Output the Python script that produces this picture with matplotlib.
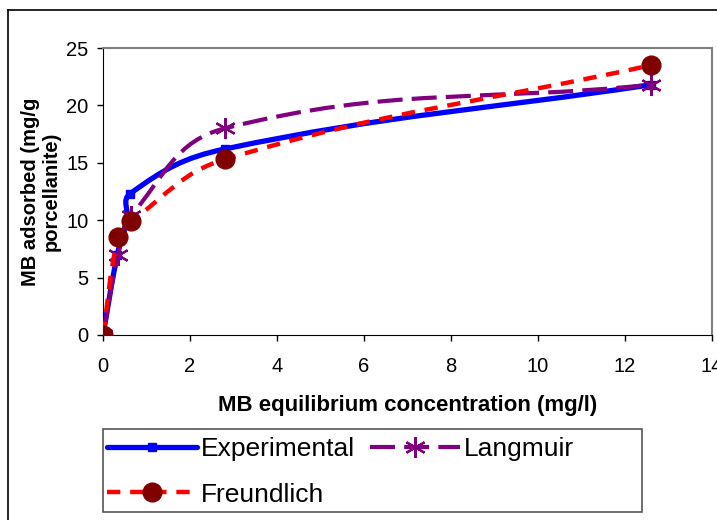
import numpy as np
import matplotlib
matplotlib.use('Agg')
import matplotlib.pyplot as plt
from matplotlib.path import Path
from matplotlib.patches import PathPatch, Rectangle
from matplotlib.lines import Line2D

plt.rcParams['font.family'] = ['Liberation Sans', 'DejaVu Sans']

# data
ce_exp = [0.0, 0.33, 0.55, 0.62, 2.8, 12.6]
experimental = [0.0, 7.0, 10.0, 12.3, 16.2, 21.8]
ce_model = [0.0, 0.35, 0.65, 2.8, 12.6]
langmuir = [0.0, 7.0, 10.4, 18.0, 21.8]
freundlich = [0.0, 8.5, 9.9, 15.3, 23.5]

xticks = [0, 2, 4, 6, 8, 10, 12, 14]
yticks = [0, 5, 10, 15, 20, 25]

W, H = 717, 520
XPX = 609 / 14.0   # pixels per x unit
YPX = 287 / 25.0   # pixels per y unit


def smoothPath(x, y, s=0.4):
    # smoothed line: tangent from the neighbours, handle length from the
    # segment length (worked out in screen scale so it does not loop)
    scale = np.array([XPX, YPX])
    pts = np.column_stack([x, y]) * scale
    n = len(pts)
    tang = []
    for i in range(n):
        d = pts[min(i + 1, n - 1)] - pts[max(i - 1, 0)]
        tang.append(d / np.linalg.norm(d))
    verts = [pts[0]]
    codes = [Path.MOVETO]
    for i in range(n - 1):
        seg = np.linalg.norm(pts[i + 1] - pts[i])
        verts += [pts[i] + tang[i] * seg * s, pts[i + 1] - tang[i + 1] * seg * s,
                  pts[i + 1]]
        codes += [Path.CURVE4] * 3
    return Path(np.array(verts) / scale, codes)


fig = plt.figure(figsize=(W / 100, H / 100), dpi=100)
ax = fig.add_axes([103 / W, 1 - 335 / H, 609 / W, 287 / H])

# outer chart border
fig.add_artist(Line2D([8 / W, 1], [1 - 10 / H] * 2, color='black', lw=1.2))
fig.add_artist(Line2D([8 / W] * 2, [0, 1 - 10 / H], color='black', lw=1.2))

blue = '#0000ff'
purple = '#800080'
red = '#ff0000'
maroon = '#800000'

ax.add_patch(PathPatch(smoothPath(ce_exp, experimental), fill=False,
                       edgecolor=blue, lw=3.8, zorder=3, capstyle='round'))
ax.plot(ce_exp, experimental, ls='none', marker='s', ms=6, color=blue, zorder=3)

ax.add_patch(PathPatch(smoothPath(ce_model, langmuir), fill=False,
                       edgecolor=purple, lw=3, ls=(0, (6, 2.2)), zorder=4))
ax.plot(ce_model, langmuir, ls='none', marker=(6, 2, 0), ms=15, mew=1.6,
        color=purple, zorder=4)

ax.add_patch(PathPatch(smoothPath(ce_model, freundlich), fill=False,
                       edgecolor=red, lw=3.2, ls=(0, (3, 2.2)), zorder=5))
ax.plot(ce_model, freundlich, ls='none', marker='o', ms=13.5, color=maroon,
        zorder=6)

ax.set_xlim(0, 14)
ax.set_ylim(0, 25)
ax.set_xticks(xticks)
ax.set_yticks(yticks)
ax.tick_params(labelsize=14.5, direction='out', length=4.5, width=1,
               color='black')
ax.tick_params(axis='y', pad=6)
ax.tick_params(axis='x', pad=11)
ax.spines['top'].set_color('#808080')
ax.spines['right'].set_color('#808080')
ax.spines['top'].set_linewidth(1.5)
ax.spines['right'].set_linewidth(1.5)

ax.set_xlabel('MB equilibrium concentration (mg/l)', fontsize=16,
              fontweight='bold', labelpad=14)
ax.set_ylabel('MB adsorbed (mg/g\nporcellanite)', fontsize=14.5,
              fontweight='bold', labelpad=4, linespacing=1.1)

# legend box, wider than its entries
fig.add_artist(Rectangle((103 / W, 1 - 512 / H), 539 / W, 83 / H,
                         transform=fig.transFigure, fill=False,
                         edgecolor='#555555', lw=1.2))
handles = [
    Line2D([], [], color=blue, lw=3.8, marker='s', ms=6, solid_capstyle='round'),
    Line2D([], [], color=red, lw=3.2, ls=(0, (3, 2.2)), marker='o', ms=13.5,
           mfc=maroon, mec=maroon),
    Line2D([], [], color=purple, lw=3, ls=(0, (6, 2.2)), marker=(6, 2, 0),
           ms=15, mew=1.6),
]
fig.legend(handles, ['Experimental', 'Freundlich', 'Langmuir'],
           ncol=2, loc='upper left', bbox_to_anchor=(89 / W, 1 - 419 / H),
           fontsize=19, frameon=False, handlelength=3.4, handletextpad=0.15,
           columnspacing=0.55, borderpad=0.2, labelspacing=0.8)

fig.savefig('out.png', dpi=100)
